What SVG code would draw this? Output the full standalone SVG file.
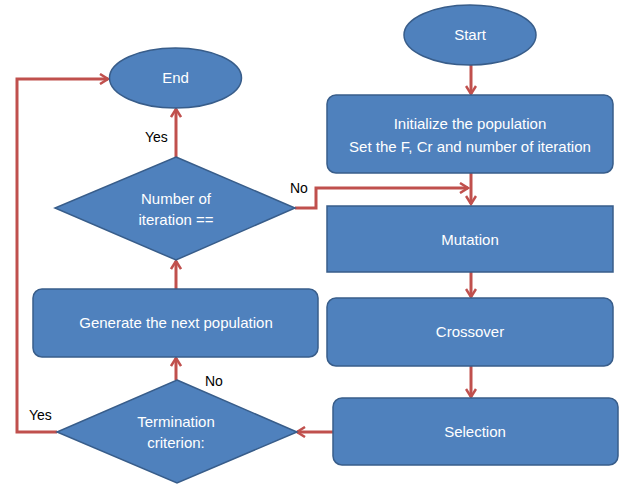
<svg xmlns="http://www.w3.org/2000/svg" width="622" height="485" viewBox="0 0 622 485">
<defs>
<style>
.n{fill:#4F81BD;stroke:#385D8A;stroke-width:1.5}
.t{fill:#fff;font-family:"Liberation Sans",Arial,sans-serif;font-size:15px;text-anchor:middle}
.l{fill:#000;font-family:"Liberation Sans",Arial,sans-serif;font-size:14px}
.c{fill:none;stroke:#C0504D;stroke-width:3}
</style>
<marker id="a" viewBox="0 0 12 12" refX="10" refY="6" markerWidth="12" markerHeight="12" markerUnits="userSpaceOnUse" orient="auto">
<path d="M2,1 L10,6 L2,11" fill="none" stroke="#C0504D" stroke-width="2.5"/>
</marker>
</defs>
<rect width="622" height="485" fill="#fff"/>
<g id="connectors">
<path class="c" d="M471,65 V94" marker-end="url(#a)"/>
<path class="c" d="M471,173 V204" marker-end="url(#a)"/>
<path class="c" d="M295,208 H316 V188 H468" marker-end="url(#a)"/>
<path class="c" d="M471,272 V297" marker-end="url(#a)"/>
<path class="c" d="M471,366 V397" marker-end="url(#a)"/>
<path class="c" d="M333,432 H297" marker-end="url(#a)"/>
<path class="c" d="M176,380 V358" marker-end="url(#a)"/>
<path class="c" d="M176,289 V261" marker-end="url(#a)"/>
<path class="c" d="M176,157 V109" marker-end="url(#a)"/>
<path class="c" d="M57,432 H17 V79 H108" marker-end="url(#a)"/>
</g>
<g id="start">
<ellipse class="n" cx="470" cy="35" rx="66" ry="30"/>
<text class="t" x="470" y="40">Start</text>
</g>
<g id="init">
<rect class="n" x="327" y="95" width="286" height="78" rx="9"/>
<text class="t" x="470" y="129">Initialize the population</text>
<text class="t" x="470" y="152">Set the F, Cr and number of iteration</text>
</g>
<g id="mutation">
<rect class="n" x="327" y="206" width="286" height="66"/>
<text class="t" x="470" y="245">Mutation</text>
</g>
<g id="crossover">
<rect class="n" x="327" y="298" width="286" height="68" rx="9"/>
<text class="t" x="470" y="337">Crossover</text>
</g>
<g id="selection">
<rect class="n" x="333" y="398" width="285" height="67" rx="9"/>
<text class="t" x="475" y="437">Selection</text>
</g>
<g id="termination">
<polygon class="n" points="177,380 297,432 177,483 57,432"/>
<text class="t" x="176" y="427">Termination</text>
<text class="t" x="176" y="448">criterion:</text>
</g>
<g id="generate">
<rect class="n" x="33" y="289" width="285" height="68" rx="9"/>
<text class="t" x="176" y="328">Generate the next population</text>
</g>
<g id="iteration">
<polygon class="n" points="176,157 295,208 176,260 55,208"/>
<text class="t" x="176" y="204">Number of</text>
<text class="t" x="176" y="225">iteration ==</text>
</g>
<g id="end">
<ellipse class="n" cx="175.5" cy="78" rx="66" ry="30"/>
<text class="t" x="175.5" y="83">End</text>
</g>
<g id="labels">
<text class="l" x="145" y="142">Yes</text>
<text class="l" x="290" y="193">No</text>
<text class="l" x="205" y="386">No</text>
<text class="l" x="29" y="420">Yes</text>
</g>
</svg>
